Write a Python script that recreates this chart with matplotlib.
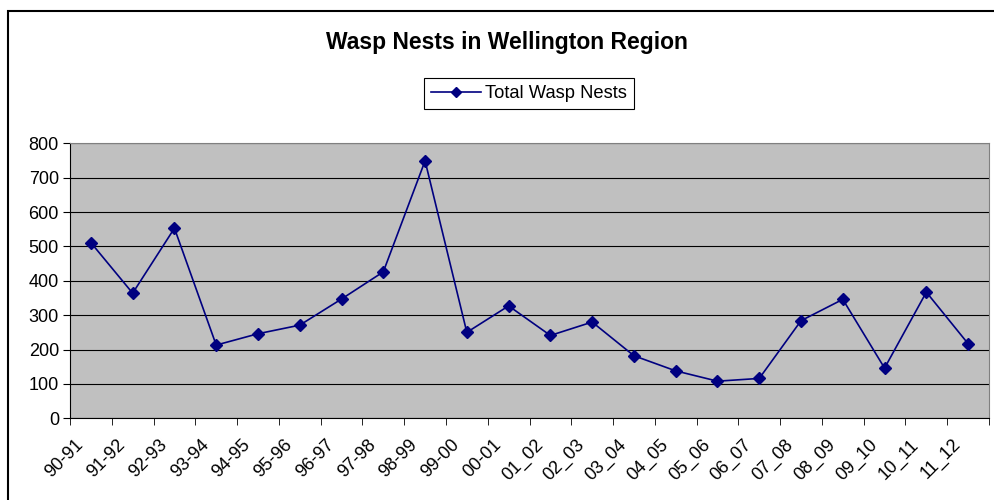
import matplotlib
matplotlib.use("Agg")
import matplotlib.pyplot as plt
from matplotlib.patches import Rectangle
import numpy as np

plt.rcParams['font.family'] = ['Liberation Sans', 'DejaVu Sans']

# data
seasons = ["90-91", "91-92", "92-93", "93-94", "94-95", "95-96", "96-97", "97-98",
           "98-99", "99-00", "00-01", "01_02", "02_03", "03_04", "04_05", "05_06",
           "06_07", "07_08", "08_09", "09_10", "10_11", "11_12"]
nests = [511, 364, 553, 213, 246, 271, 347, 426, 749, 250, 327, 241,
         280, 182, 138, 108, 116, 284, 346, 146, 367, 217]

fig = plt.figure(figsize=(9.94, 5.0), dpi=100)
ax = fig.add_axes([70/994, 1-418.3/500, (989-70)/994, (418.3-143.3)/500])

x = np.arange(len(seasons))
ax.plot(x, nests, color='#000080', linewidth=1.2, marker='D', markersize=6,
        markerfacecolor='#000080', markeredgecolor='#000080',
        label='Total Wasp Nests')

ax.set_facecolor('#C0C0C0')
ax.set_ylim(0, 800)
ax.set_xlim(-0.5, len(seasons) - 0.5)
ax.set_yticks(range(0, 801, 100))
ax.yaxis.grid(True, color='black', linewidth=0.8)
ax.set_axisbelow(True)

# labels sit a little left of the category centre, like Excel does
ax.set_xticks(x - 0.24)
ax.set_xticklabels(seasons, rotation=45, ha='right', va='center',
                   rotation_mode='anchor', fontsize=13)
ax.set_xticks(np.arange(-0.5, len(seasons)), minor=True)
ax.tick_params(axis='x', which='major', length=0, pad=17)
ax.tick_params(axis='x', which='minor', length=5, color='black', direction='out')
ax.tick_params(axis='y', length=5, color='black', labelsize=13, pad=3)

for s in ['top', 'right']:
    ax.spines[s].set_color('#808080')
for s in ['left', 'bottom']:
    ax.spines[s].set_color('black')

fig.text(507/994, 1-43/500, 'Wasp Nests in Wellington Region', ha='center',
         va='center', fontsize=16.5, fontweight='bold')

leg = fig.legend(loc='center', bbox_to_anchor=(529/994, 1-93.5/500),
                 fontsize=13.2, fancybox=False, framealpha=1, borderpad=0.4,
                 handlelength=2.7, handletextpad=0.25, borderaxespad=0)
leg.get_frame().set_edgecolor('black')
leg.get_frame().set_linewidth(0.8)
for h in leg.legend_handles:
    h.set_markersize(5)

# outer chart border
fig.patches.append(Rectangle((8/994, -0.1), 1.1, 1.1 - 11/500,
                             transform=fig.transFigure, fill=False,
                             edgecolor='black', linewidth=1.5))

fig.savefig('out.png', dpi=100)
